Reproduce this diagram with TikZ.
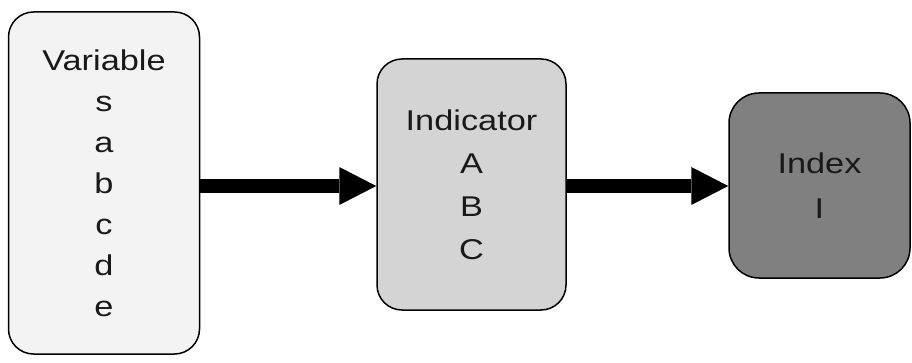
\documentclass[tikz,border=0pt]{standalone}
\usepackage{fontspec}
\setmainfont[FakeStretch=1.2]{Liberation Sans}
\usetikzlibrary{arrows.meta}
\definecolor{varfill}{HTML}{F3F3F3}
\definecolor{indfill}{HTML}{D4D4D4}
\definecolor{idxfill}{HTML}{808080}
\begin{document}
\begin{tikzpicture}[x=1pt,y=-1pt,
  box/.style={draw=black, line width=1.5pt, inner sep=0pt, align=center, text=black!90},
  flow/.style={line width=14pt, -{Triangle[length=37pt,width=38pt,line width=0pt]}}]
\useasboundingbox (0,0) rectangle (912,363);
\node[box, fill=varfill, rounded corners=25pt, minimum width=191pt, minimum height=342pt,
      font=\fontsize{28.6}{41}\selectfont] (var) at (104,183) {Variable\\s\\a\\b\\c\\d\\e};
\node[box, fill=indfill, rounded corners=25pt, minimum width=189pt, minimum height=251pt,
      font=\fontsize{28.6}{43}\selectfont] (ind) at (471.5,184.5) {Indicator\\A\\B\\C};
\node[box, fill=idxfill, rounded corners=30pt, minimum width=181pt, minimum height=185pt,
      font=\fontsize{28.6}{45}\selectfont] (idx) at (819.5,185.5) {Index\\I};
\coordinate (a1s) at (var.east |- 0,186);
\coordinate (a1e) at (ind.west |- 0,186);
\coordinate (a2s) at (ind.east |- 0,186);
\coordinate (a2e) at (idx.west |- 0,186);
\draw[flow] (a1s) -- (a1e);
\draw[flow] (a2s) -- (a2e);
\end{tikzpicture}
\end{document}
